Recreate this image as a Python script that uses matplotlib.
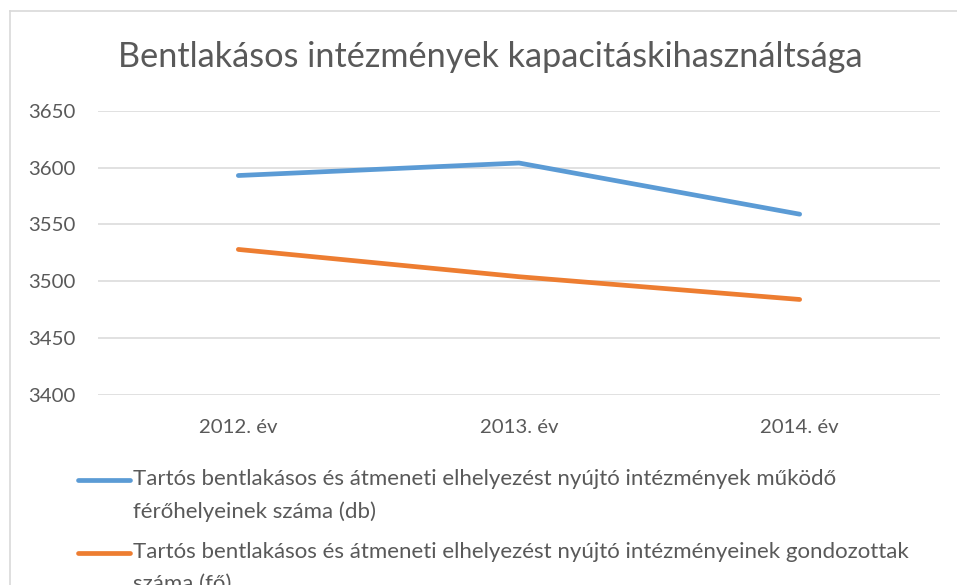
import matplotlib
matplotlib.use("Agg")
import matplotlib.pyplot as plt
from matplotlib.lines import Line2D
import numpy as np

# data
years = ["2012. év", "2013. év", "2014. év"]
ferohely = [3593, 3604, 3559]
gondozott = [3528, 3504, 3484]
labels = [
    "Tartós bentlakásos és átmeneti elhelyezést nyújtó intézmények működő\nférőhelyeinek száma (db)",
    "Tartós bentlakásos és átmeneti elhelyezést nyújtó intézményeinek gondozottak\nszáma (fő)",
]
yticks = [3400, 3450, 3500, 3550, 3600, 3650]

blue = "#5B9BD5"
orange = "#ED7D31"
grey = "#595959"

plt.rcParams['font.family'] = ['Lato', 'DejaVu Sans']

W, H = 957, 585
fig = plt.figure(figsize=(W / 100, H / 100), dpi=100)

ax = fig.add_axes([98 / W, 1 - 395 / H, (940 - 98) / W, (395 - 110.7) / H])
x = np.arange(len(years))
ax.plot(x, ferohely, color=blue, lw=3.4, solid_capstyle='round', solid_joinstyle='round')
ax.plot(x, gondozott, color=orange, lw=3.4, solid_capstyle='round', solid_joinstyle='round')
ax.set_xlim(-0.5, len(years) - 0.5)
ax.set_ylim(3400, 3650)
ax.set_yticks(yticks)
ax.set_xticks(x)
ax.set_xticklabels(years)
ax.grid(axis='y', color='#D9D9D9', lw=1.1)
ax.set_axisbelow(True)
for s in ax.spines.values():
    s.set_visible(False)
ax.tick_params(length=0, labelsize=14.7, colors=grey)
ax.tick_params(axis='y', pad=16)
ax.tick_params(axis='x', pad=17)

fig.text(490 / W, 1 - 57 / H, "Bentlakásos intézmények kapacitáskihasználtsága",
         ha='center', va='center', fontsize=24.7, color=grey)

# chart frame (cut at the right and bottom)
fig.add_artist(Line2D([10 / W, 10 / W], [0, 1 - 11 / H], color='#D9D9D9', lw=1.2))
fig.add_artist(Line2D([10 / W, 1], [1 - 11 / H, 1 - 11 / H], color='#D9D9D9', lw=1.2))

# legend (the second entry runs past the bottom edge, as in the source)
for i, (lab, c) in enumerate(zip(labels, [blue, orange])):
    yy = 1 - (480 + i * 73) / H
    fig.add_artist(Line2D([78 / W, 130 / W], [yy, yy], color=c, lw=3.4, solid_capstyle='round'))
    fig.text(133 / W, yy + 11 / H, lab, ha='left', va='top', fontsize=16,
             color=grey, linespacing=1.75)

fig.savefig("out.png", dpi=100)
